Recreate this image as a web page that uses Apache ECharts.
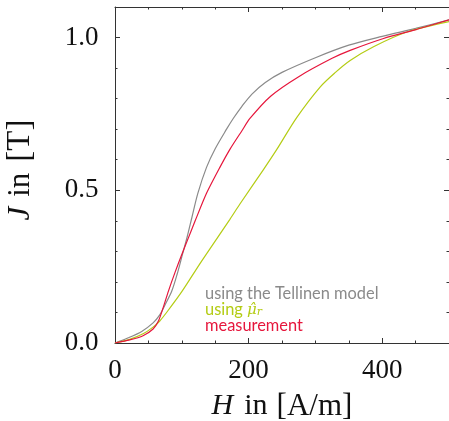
<!DOCTYPE html>
<html>
<head>
<meta charset="utf-8">
<script src="https://cdn.jsdelivr.net/npm/echarts@6/dist/echarts.min.js"></script>
<style>html,body{margin:0;padding:0;background:#fff;}#c{width:449px;height:421px;}</style>
</head>
<body>
<div id="c"></div>
<script>
// Data (H in A/m, J in T)
const tellinenH = [0, 20, 40, 57, 67, 75, 85, 93, 101, 108, 115, 124, 137, 150, 167, 177, 190, 205, 225, 250, 300, 350, 400, 450, 500];
const tellinenJ = [0, 0.017, 0.038, 0.066, 0.092, 0.125, 0.17, 0.225, 0.29, 0.347, 0.41, 0.49, 0.575, 0.636, 0.700, 0.735, 0.775, 0.815, 0.853, 0.886, 0.934, 0.975, 1.004, 1.03, 1.058];
const muH = [0, 22, 42, 57, 67, 80, 100, 126, 137, 172, 187, 222, 242, 272, 307, 330, 352, 387, 437, 500];
const muJ = [0, 0.012, 0.03, 0.052, 0.072, 0.108, 0.168, 0.256, 0.292, 0.405, 0.455, 0.567, 0.633, 0.738, 0.838, 0.886, 0.925, 0.97, 1.018, 1.052];
const measH = [0, 22, 42, 57, 65, 72, 80, 90, 100, 110, 120, 137, 157, 172, 190, 202, 233, 275, 325, 352, 402, 452, 500];
const measJ = [0, 0.01, 0.024, 0.046, 0.072, 0.115, 0.17, 0.232, 0.29, 0.345, 0.40, 0.49, 0.575, 0.634, 0.695, 0.735, 0.808, 0.872, 0.932, 0.958, 0.997, 1.027, 1.058];
const xLabels = [0, 200, 400];
const yLabels = [0, 0.5, 1.0];
const seriesNames = ['using the Tellinen model', 'using μ̂r', 'measurement'];

const pairs = (xs, ys) => xs.map((x, i) => [x, ys[i]]);
const serif = 'Liberation Serif';
const axisColor = '#333';
const colors = ['#8a8a8a', '#b4cc14', '#e6163c'];

function xAx(pos, tickLen, custom, showLabel, showLine) {
  return {
    type: 'value', position: pos, min: 0, max: 500, interval: 50,
    axisLine: {show: showLine, onZero: false, lineStyle: {color: axisColor, width: 1}},
    axisTick: {show: true, inside: true, length: tickLen, lineStyle: {color: axisColor}, customValues: custom},
    axisLabel: showLabel ? {show: true, customValues: xLabels, margin: 14, fontFamily: serif, fontSize: 27, color: '#111'} : {show: false},
    splitLine: {show: false}
  };
}
function yAx(pos, tickLen, custom, showLabel, showLine) {
  return {
    type: 'value', position: pos, min: 0, max: 1.1, interval: 0.1,
    axisLine: {show: showLine, onZero: false, lineStyle: {color: axisColor, width: 1}},
    axisTick: {show: true, inside: true, length: tickLen, lineStyle: {color: axisColor}, customValues: custom},
    axisLabel: showLabel ? {show: true, customValues: yLabels, margin: 16.5, fontFamily: serif, fontSize: 27, color: '#111', formatter: v => v.toFixed(1)} : {show: false},
    splitLine: {show: false}
  };
}

const xAxes = [
  xAx('bottom', 2.5, undefined, true, true),
  xAx('bottom', 5, xLabels, false, false),
  xAx('top', 2.5, undefined, false, true),
  xAx('top', 5, xLabels, false, false)
];
xAxes[0].name = '{i|H}{n|in}{b|[A/m]}';
xAxes[0].nameLocation = 'middle';
xAxes[0].nameGap = 48;
xAxes[0].nameTextStyle = {fontFamily: serif, fontSize: 30, color: '#111', rich: {
  i: {fontFamily: serif, fontStyle: 'italic', fontSize: 30, color: '#111', padding: [0, 11, 0, 0]},
  n: {fontFamily: serif, fontSize: 30, color: '#111', padding: [0, 9, 0, 0]},
  b: {fontFamily: serif, fontSize: 31, color: '#111'}}};

const yAxes = [
  yAx('left', 2.5, undefined, true, true),
  yAx('left', 5, yLabels, false, false),
  yAx('right', 2.5, undefined, false, true),
  yAx('right', 5, yLabels, false, false)
];
yAxes[0].name = '{i|J}{n|in}{b|[T]}';
yAxes[0].nameLocation = 'middle';
yAxes[0].nameGap = 78;
yAxes[0].nameTextStyle = {fontFamily: serif, fontSize: 31, color: '#111', padding: [0, 0, 0, 10], rich: {
  i: {fontFamily: serif, fontStyle: 'italic', fontSize: 31, color: '#111', padding: [0, 10, 0, 0]},
  n: {fontFamily: serif, fontSize: 31, color: '#111', padding: [0, 11, 0, 0]},
  b: {fontFamily: serif, fontSize: 33, color: '#111'}}};

const chart = echarts.init(document.getElementById('c'), null, {renderer: 'canvas'});
chart.setOption({
  animation: false,
  backgroundColor: '#fff',
  grid: {left: 115, right: 0, top: 7, bottom: 78, containLabel: false, outerBoundsMode: 'none'},
  xAxis: xAxes,
  yAxis: yAxes,
  legend: {
    orient: 'vertical', left: 200, top: 286, itemGap: 0, itemWidth: 0, itemHeight: 10,
    icon: 'none', selectedMode: false, padding: 0,
    formatter: name => name === seriesNames[1] ? 'using {m|μ̂}{s|r}' : name,
    textStyle: {fontFamily: 'Lato', fontSize: 16.4, lineHeight: 16,
      rich: {m: {fontFamily: 'DejaVu Serif', fontStyle: 'italic', fontSize: 15, lineHeight: 16, color: colors[1]},
             s: {fontFamily: 'DejaVu Serif', fontStyle: 'italic', fontSize: 11, lineHeight: 16, color: colors[1], padding: [5, 0, 0, 0]}}},
    data: seriesNames.map((n, i) => ({name: n, textStyle: {color: colors[i]}}))
  },
  series: [
    {name: seriesNames[0], type: 'line', data: pairs(tellinenH, tellinenJ), smooth: 0.3, showSymbol: false, lineStyle: {color: colors[0], width: 1.2}, itemStyle: {color: colors[0]}},
    {name: seriesNames[1], type: 'line', data: pairs(muH, muJ), smooth: 0.3, showSymbol: false, lineStyle: {color: colors[1], width: 1.2}, itemStyle: {color: colors[1]}},
    {name: seriesNames[2], type: 'line', data: pairs(measH, measJ), smooth: 0.25, showSymbol: false, lineStyle: {color: colors[2], width: 1.2}, itemStyle: {color: colors[2]}}
  ]
});
</script>
</body>
</html>
